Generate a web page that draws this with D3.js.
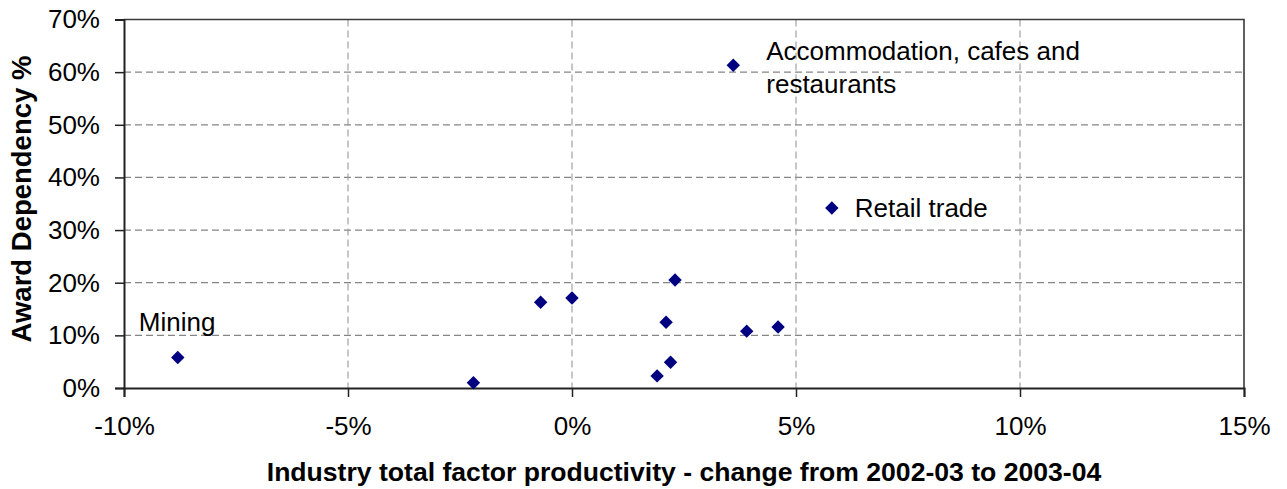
<!DOCTYPE html>
<html>
<head>
<meta charset="utf-8">
<script src="https://cdn.jsdelivr.net/npm/d3@7"></script>
<style>
  html, body { margin: 0; padding: 0; background: #fff; }
  svg { display: block; }
  text { font-family: Arial, "Liberation Sans", sans-serif; }
</style>
</head>
<body>
<svg id="chart" width="1287" height="489"></svg>
<script>
// ---- Data ----
const xValues = [-8.8, -2.2, -0.7, 0.0, 2.3, 2.1, 2.2, 1.9, 3.9, 4.6, 3.6, 5.8];
const yValues = [5.8, 1.0, 16.3, 17.1, 20.5, 12.5, 4.9, 2.3, 10.8, 11.6, 61.3, 34.2];
const pointLabels = ["Mining", "", "", "", "", "", "", "", "", "", "Accommodation, cafes and\nrestaurants", "Retail trade"];
const xTicks = [-10, -5, 0, 5, 10, 15];
const yTicks = [0, 10, 20, 30, 40, 50, 60, 70];
const xTitle = "Industry total factor productivity - change from 2002-03 to 2003-04";
const yTitle = "Award Dependency %";

(function () {
// ---- Layout ----
const svg = d3.select("#chart");
const pL = 124, pT = 19.5, pR = 1244, pB = 388;
const x = d3.scaleLinear().domain([-10, 15]).range([pL, pR]);
const y = d3.scaleLinear().domain([0, 70]).range([pB, pT]);
const fontSize = 26;

// gridlines
svg.append("g").selectAll("line").data(yTicks.filter(d => d > 0 && d < 70)).join("line")
  .attr("x1", pL).attr("x2", pR)
  .attr("y1", d => y(d)).attr("y2", d => y(d))
  .attr("stroke", "#858585").attr("stroke-width", 1.2).attr("stroke-dasharray", "7,4");
svg.append("g").selectAll("line").data(xTicks.filter(d => d > -10 && d < 15)).join("line")
  .attr("x1", d => x(d)).attr("x2", d => x(d))
  .attr("y1", pT).attr("y2", pB)
  .attr("stroke", "#9a9a9a").attr("stroke-width", 1.1).attr("stroke-dasharray", "7,4");

// plot border (top & right)
svg.append("path")
  .attr("d", `M${pL},${pT}H${pR}V${pB}`)
  .attr("fill", "none").attr("stroke", "#3a3a3a").attr("stroke-width", 1.6);

// axes
const xAxis = d3.axisBottom(x).tickValues(xTicks).tickSize(9).tickPadding(20)
  .tickFormat(d => d + "%");
const yAxis = d3.axisLeft(y).tickValues(yTicks).tickSize(9).tickPadding(15)
  .tickFormat(d => d + "%");

const gx = svg.append("g").attr("transform", `translate(0,${pB})`).call(xAxis);
const gy = svg.append("g").attr("transform", `translate(${pL},0)`).call(yAxis);
[gx, gy].forEach(g => {
  g.select(".domain").attr("stroke", "#222").attr("stroke-width", 2);
  g.selectAll(".tick line").attr("stroke", "#222").attr("stroke-width", 1.5);
  g.selectAll(".tick text").attr("fill", "#000")
    .style("font-family", "Arial, 'Liberation Sans', sans-serif")
    .style("font-size", fontSize + "px");
});

// points
const pts = xValues.map((v, i) => ({ x: v, y: yValues[i], label: pointLabels[i] }));
const diamond = d3.symbol().type(d3.symbolDiamond2).size(115);
svg.append("g").selectAll("path").data(pts).join("path")
  .attr("d", diamond)
  .attr("transform", d => `translate(${x(d.x)},${y(d.y)})`)
  .attr("fill", "#000080");

// point labels
const labelOffsets = { "Mining": [-39, -26], "Retail trade": [23, 9] };
const defaultOffset = [33, -5];
const lab = svg.append("g");
pts.filter(d => d.label).forEach(d => {
  const off = labelOffsets[d.label] || defaultOffset;
  const lines = d.label.split("\n");
  const t = lab.append("text")
    .attr("x", x(d.x) + off[0]).attr("y", y(d.y) + off[1])
    .attr("font-size", fontSize).attr("fill", "#000");
  lines.forEach((ln, i) => {
    t.append("tspan").attr("x", x(d.x) + off[0]).attr("dy", i === 0 ? 0 : 33).text(ln);
  });
});

// axis titles (fit to measured extents)
function fit(el, target) {
  const w = el.node().getComputedTextLength();
  const s = +el.attr("font-size");
  el.attr("font-size", s * target / w);
}
const xt = svg.append("text")
  .attr("x", (pL + pR) / 2).attr("y", 481)
  .attr("text-anchor", "middle").attr("font-weight", "bold")
  .attr("font-size", 24).attr("fill", "#000").text(xTitle);
fit(xt, 835);
const yt = svg.append("text")
  .attr("transform", `translate(31,${199}) rotate(-90)`)
  .attr("text-anchor", "middle").attr("font-weight", "bold")
  .attr("font-size", 24).attr("fill", "#000").text(yTitle);
fit(yt, 287);
})();
</script>
</body>
</html>
